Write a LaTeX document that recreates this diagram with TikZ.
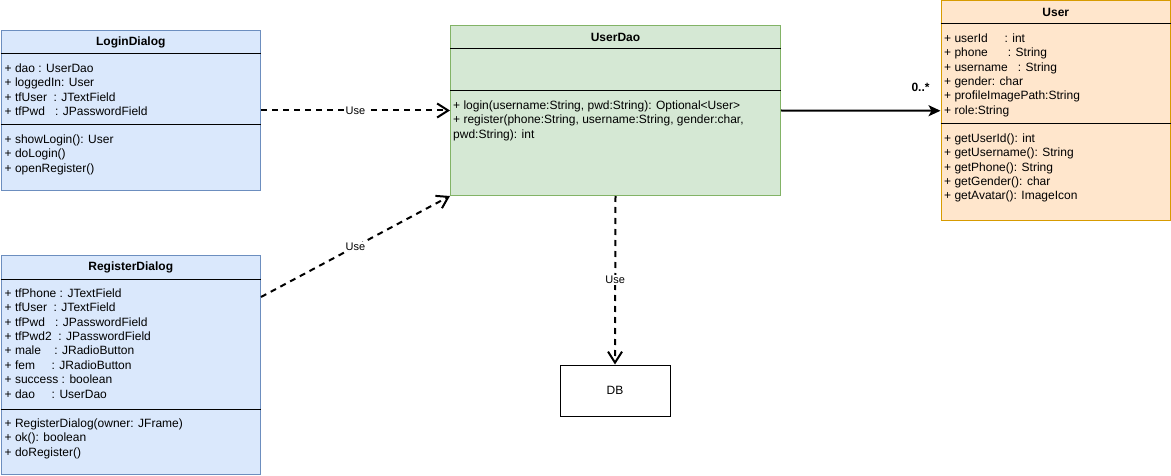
\documentclass[tikz,border=0pt]{standalone}
\usepackage{fontspec}
\setmainfont{Liberation Sans}
\usetikzlibrary{arrows.meta, positioning, calc}
\usepackage{xcolor}
\definecolor{loginfill}{HTML}{DAE8FC}
\definecolor{loginline}{HTML}{6C8EBF}
\definecolor{daofill}{HTML}{D5E8D4}
\definecolor{daoline}{HTML}{82B366}
\definecolor{userfill}{HTML}{FFE6CC}
\definecolor{userline}{HTML}{D79B00}

\begin{document}
\begin{tikzpicture}[
    x=1pt, y=-1pt,
    classbox/.style={rectangle, draw, line width=1pt, inner sep=0pt, anchor=north west},
    title/.style={inner sep=0pt, font=\fontsize{12}{14.4}\selectfont\bfseries},
    members/.style={anchor=north west, inner sep=0pt, align=left, font=\fontsize{12}{14.4}\selectfont},
    sep/.style={draw, line width=1pt},
    use/.style={draw, line width=2pt, dash pattern=on 6pt off 5pt, -{Straight Barb[length=11pt, width=14pt]}},
    uselabel/.style={fill=white, inner sep=1pt, font=\fontsize{11}{13}\selectfont},
    assoc/.style={draw, line width=2pt, -{Stealth[length=12pt, width=11pt, inset=3pt]}},
    card/.style={inner sep=0pt, font=\fontsize{12}{14.4}\selectfont\bfseries}
]
\useasboundingbox (0,0) rectangle (1171,476);

% Classes
\node[classbox, fill=loginfill, draw=loginline, minimum width=259.5pt, minimum height=160pt] (login) at (0.5,30) {};
\node[title] (login-title) at ($(login.north)+(0,12)$) {LoginDialog};
\draw[sep] ($(login.north west)+(0,24)$) -- ($(login.north east)+(0,24)$);
\draw[sep] ($(login.north west)+(0,95)$) -- ($(login.north east)+(0,95)$);
\node[members] (login-attr) at ($(login.north west)+(4,33.5)$) {+ dao : UserDao\\+ loggedIn: User\\+ tfUser~~: JTextField\\+ tfPwd~~~: JPasswordField};
\node[members] (login-ops) at ($(login.north west)+(4,104.5)$) {+ showLogin(): User\\+ doLogin()\\+ openRegister()};

\node[classbox, fill=loginfill, draw=loginline, minimum width=259.5pt, minimum height=219pt] (register) at (0.5,255) {};
\node[title] (register-title) at ($(register.north)+(0,12)$) {RegisterDialog};
\draw[sep] ($(register.north west)+(0,24)$) -- ($(register.north east)+(0,24)$);
\draw[sep] ($(register.north west)+(0,154)$) -- ($(register.north east)+(0,154)$);
\node[members] (register-attr) at ($(register.north west)+(4,33.5)$) {+ tfPhone : JTextField\\+ tfUser~~: JTextField\\+ tfPwd~~~: JPasswordField\\+ tfPwd2~~: JPasswordField\\+ male~~~~: JRadioButton\\+ fem~~~~~: JRadioButton\\+ success : boolean\\+ dao~~~~~: UserDao};
\node[members] (register-ops) at ($(register.north west)+(4,163.5)$) {+ RegisterDialog(owner: JFrame)\\+ ok(): boolean\\+ doRegister()};

\node[classbox, fill=daofill, draw=daoline, minimum width=330pt, minimum height=170pt] (dao) at (450,25) {};
\node[title] (dao-title) at ($(dao.north)+(0,12)$) {UserDao};
\draw[sep] ($(dao.north west)+(0,24)$) -- ($(dao.north east)+(0,24)$);
\draw[sep] ($(dao.north west)+(0,66)$) -- ($(dao.north east)+(0,66)$);
\node[members] (dao-ops) at ($(dao.north west)+(3,75.5)$) {+ login(username:String, pwd:String): Optional<User>\\+ register(phone:String, username:String, gender:char,\\pwd:String): int};

\node[classbox, fill=userfill, draw=userline, minimum width=229.5pt, minimum height=219.5pt] (user) at (940.5,0.5) {};
\node[title] (user-title) at ($(user.north)+(0,11.5)$) {User};
\draw[sep] ($(user.north west)+(0,23.5)$) -- ($(user.north east)+(0,23.5)$);
\draw[sep] ($(user.north west)+(0,123.5)$) -- ($(user.north east)+(0,123.5)$);
\node[members] (user-attr) at ($(user.north west)+(3.5,33)$) {+ userId~~~~~: int\\+ phone~~~~~~: String\\+ username~~~: String\\+ gender: char\\+ profileImagePath:String\\+ role:String};
\node[members] (user-ops) at ($(user.north west)+(3.5,133)$) {+ getUserId(): int\\+ getUsername(): String\\+ getPhone(): String\\+ getGender(): char\\+ getAvatar(): ImageIcon};

\node[draw, line width=1pt, minimum width=110pt, minimum height=51pt, font=\fontsize{12}{14.4}\selectfont] (db) at (615,390.5) {DB};

% Relationships
\coordinate (register-src) at ($(register.north east)+(0,42)$);
\draw[use] (login.east) -- (dao.west) node[uselabel, midway] {Use};
\draw[use] (register-src) -- (dao.south west) node[uselabel, midway] {Use};
\draw[use] (dao.south) -- (db.north) node[uselabel, midway] {Use};
\draw[assoc] (dao.east) -- (user.west) node[card, pos=0.875, yshift=23pt] {0..*};

\end{tikzpicture}
\end{document}
